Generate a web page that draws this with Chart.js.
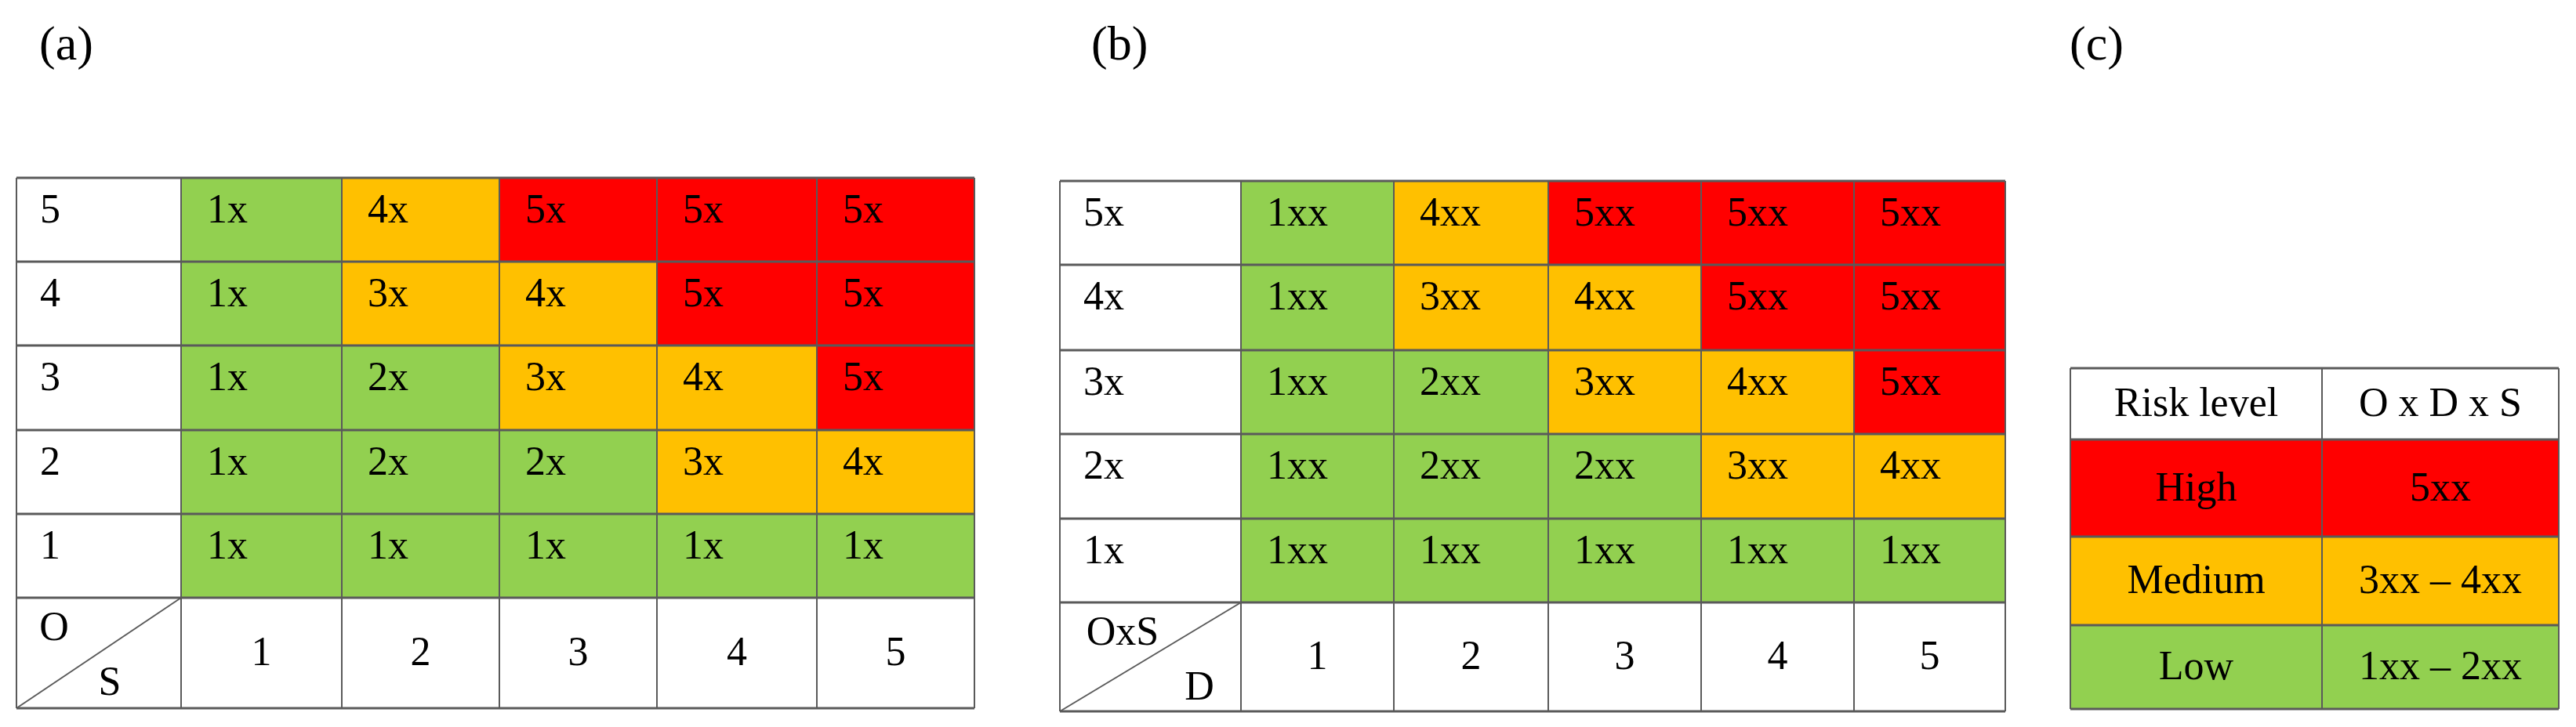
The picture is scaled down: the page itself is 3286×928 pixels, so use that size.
<!DOCTYPE html>
<html>
<head>
<meta charset="utf-8">
<script src="https://cdn.jsdelivr.net/npm/chart.js@4"></script>
<style>
  body { margin: 0; width: 3286px; height: 928px; background: #fff; position: relative; overflow: hidden; }
  .panel { position: absolute; font-family: "Liberation Serif", serif; font-size: 62px; color: #000; }
  .box { position: absolute; }
</style>
</head>
<body>
<div class="panel" style="left:50px;top:20px">(a)</div>
<div class="panel" style="left:1392px;top:20px">(b)</div>
<div class="panel" style="left:2640px;top:20px">(c)</div>
<div class="box" style="left:18px;top:224px;width:1228px;height:683px"><canvas id="tableA"></canvas></div>
<div class="box" style="left:1349px;top:228px;width:1212px;height:683px"><canvas id="tableB"></canvas></div>
<div class="box" style="left:2638px;top:467px;width:629px;height:441px"><canvas id="tableC"></canvas></div>
<script>
// (a) occurrence x severity
const rowsA = ['5', '4', '3', '2', '1'];
const colsA = ['1', '2', '3', '4', '5'];
const cellsA = [
  ['1x', '4x', '5x', '5x', '5x'],
  ['1x', '3x', '4x', '5x', '5x'],
  ['1x', '2x', '3x', '4x', '5x'],
  ['1x', '2x', '2x', '3x', '4x'],
  ['1x', '1x', '1x', '1x', '1x']
];
// (b) (O x S) x detection
const rowsB = ['5x', '4x', '3x', '2x', '1x'];
const colsB = ['1', '2', '3', '4', '5'];
const cellsB = [
  ['1xx', '4xx', '5xx', '5xx', '5xx'],
  ['1xx', '3xx', '4xx', '5xx', '5xx'],
  ['1xx', '2xx', '3xx', '4xx', '5xx'],
  ['1xx', '2xx', '2xx', '3xx', '4xx'],
  ['1xx', '1xx', '1xx', '1xx', '1xx']
];
// (c) legend
const legendHeader = ['Risk level', 'O x D x S'];
const legendLevels = ['High', 'Medium', 'Low'];
const legendRanges = ['5xx', '3xx \u2013 4xx', '1xx \u2013 2xx'];

const GREEN = '#92D050', ORANGE = '#FFC000', RED = '#FF0000';
const LINE = '#5a5a5a';
const FONT = '"Liberation Serif", serif';
const FONT_SIZE = 52;

const specs = {};

function colorFor(txt) {
  const d = txt.charAt(0);
  if (d === '5') return RED;
  if (d === '3' || d === '4') return ORANGE;
  return GREEN;
}

// grid plugin: every cell goes through the chart's x/y scales
const gridPlugin = {
  id: 'tableGrid',
  afterDraw(chart) {
    const spec = specs[chart.canvas.id];
    if (!spec) return;
    const ctx = chart.ctx, xs = chart.scales.x, ys = chart.scales.y;
    const X = v => xs.getPixelForValue(v), Y = v => ys.getPixelForValue(v);
    const xe = spec.xEdges, ye = spec.yEdges;
    ctx.save();
    spec.cells.forEach(c => {
      const x0 = X(xe[c.col]), x1 = X(xe[c.col + 1]);
      const y0 = Y(ye[c.row]), y1 = Y(ye[c.row + 1]);
      ctx.fillStyle = c.fill || '#fff';
      ctx.fillRect(x0, y0, x1 - x0, y1 - y0);
      if (c.text) {
        ctx.fillStyle = '#000';
        ctx.font = FONT_SIZE + 'px ' + FONT;
        if (c.align === 'center') {
          ctx.textAlign = 'center'; ctx.textBaseline = 'middle';
          ctx.fillText(c.text, (x0 + x1) / 2, (y0 + y1) / 2 + 2);
        } else {
          ctx.textAlign = 'left'; ctx.textBaseline = 'alphabetic';
          ctx.fillText(c.text, x0 + c.dx, y0 + 57);
        }
      }
    });
    ctx.strokeStyle = LINE;
    ctx.lineWidth = 3;
    ye.forEach(v => { ctx.beginPath(); ctx.moveTo(X(xe[0]), Y(v)); ctx.lineTo(X(xe[xe.length - 1]), Y(v)); ctx.stroke(); });
    ctx.lineWidth = 2;
    xe.forEach(v => { ctx.beginPath(); ctx.moveTo(X(v), Y(ye[0])); ctx.lineTo(X(v), Y(ye[ye.length - 1])); ctx.stroke(); });
    // corner cell with diagonal
    if (spec.corner) {
      const r = ye.length - 2;
      const x0 = X(xe[0]), x1 = X(xe[1]), y0 = Y(ye[r]), y1 = Y(ye[r + 1]);
      ctx.lineWidth = 2;
      ctx.beginPath(); ctx.moveTo(x0, y1); ctx.lineTo(x1, y0); ctx.stroke();
      ctx.fillStyle = '#000';
      ctx.font = FONT_SIZE + 'px ' + FONT;
      ctx.textAlign = 'center'; ctx.textBaseline = 'middle';
      ctx.fillText(spec.corner[0], x0 + spec.corner[2], y0 + 40);
      ctx.fillText(spec.corner[1], x0 + spec.corner[3], y0 + 110);
    }
    ctx.restore();
  }
};

function buildMatrix(rows, cols, cells) {
  const out = [];
  rows.forEach((r, i) => {
    out.push({ row: i, col: 0, text: r, dx: 30 });
    cells[i].forEach((t, j) => out.push({ row: i, col: j + 1, text: t, dx: 33, fill: colorFor(t) }));
  });
  cols.forEach((c, j) => out.push({ row: rows.length, col: j + 1, text: c, align: 'center' }));
  out.push({ row: rows.length, col: 0 });
  return out;
}

function makeTable(id, xEdges, yEdges, cells, corner) {
  specs[id] = { xEdges, yEdges, cells, corner };
  new Chart(document.getElementById(id), {
    type: 'scatter',
    data: { datasets: [{ data: [] }] },
    options: {
      responsive: true,
      maintainAspectRatio: false,
      animation: false,
      layout: { padding: 3 },
      scales: {
        x: { type: 'linear', display: false, min: xEdges[0], max: xEdges[xEdges.length - 1] },
        y: { type: 'linear', display: false, reverse: true, min: yEdges[0], max: yEdges[yEdges.length - 1] }
      },
      plugins: { legend: { display: false }, tooltip: { enabled: false } }
    },
    plugins: [gridPlugin]
  });
}

makeTable('tableA',
  [0, 210, 415, 616, 817, 1021, 1222],
  [0, 107, 214, 322, 429, 536, 677],
  buildMatrix(rowsA, colsA, cellsA), ['O', 'S', 48, 119]);

makeTable('tableB',
  [0, 231, 426, 623, 818, 1013, 1206],
  [0, 107, 216, 323, 431, 538, 677],
  buildMatrix(rowsB, colsB, cellsB), ['OxS', 'D', 80, 178]);

const legendCells = [
  { row: 0, col: 0, text: legendHeader[0], align: 'center' },
  { row: 0, col: 1, text: legendHeader[1], align: 'center' }
];
legendLevels.forEach((lv, i) => {
  const fill = [RED, ORANGE, GREEN][i];
  legendCells.push({ row: i + 1, col: 0, text: lv, align: 'center', fill });
  legendCells.push({ row: i + 1, col: 1, text: legendRanges[i], align: 'center', fill });
});
makeTable('tableC', [0, 321, 623], [0, 91, 215, 328, 435], legendCells, null);
</script>
</body>
</html>
